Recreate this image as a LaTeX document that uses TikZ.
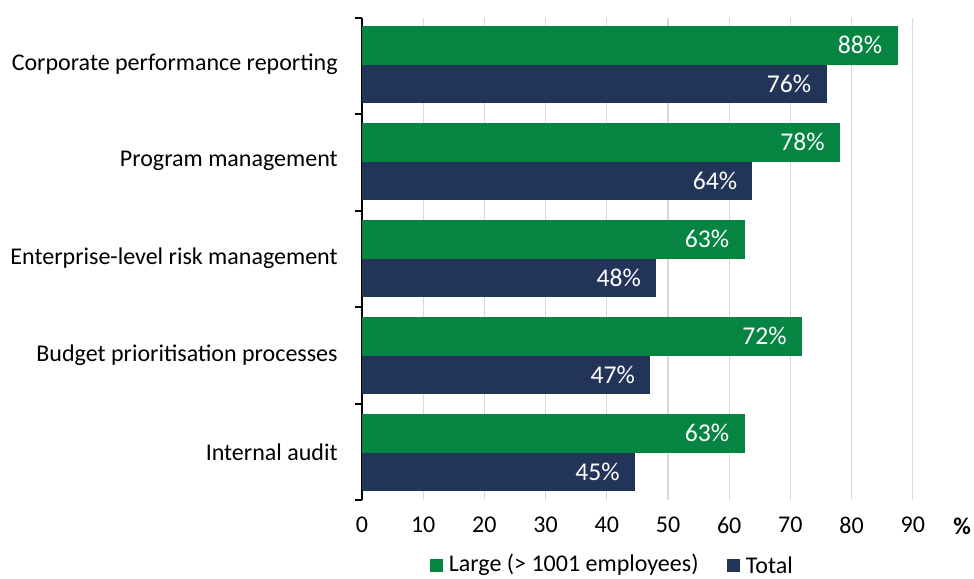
\documentclass[tikz,border=0pt]{standalone}
\usepackage{fontspec}
\setmainfont{Carlito}
\usetikzlibrary{positioning}
\definecolor{largegreen}{RGB}{5,133,65}
\definecolor{totalnavy}{RGB}{34,52,88}
\definecolor{gridgray}{RGB}{217,217,217}
\tikzstyle{bar}=[inner sep=0pt,outer sep=0pt,anchor=north west,minimum height=19.25pt,minimum width=#1*3.06pt]
\tikzstyle{large}=[fill=largegreen]
\tikzstyle{total}=[fill=totalnavy]
\tikzstyle{val}=[text=white,anchor=east,inner sep=0pt,font=\fontsize{12.8}{14}\selectfont]
\tikzstyle{cat}=[anchor=east,inner sep=0pt,font=\fontsize{12}{14}\selectfont]
\tikzstyle{num}=[inner sep=0pt,font=\fontsize{12}{14}\selectfont]
\tikzstyle{key}=[inner sep=0pt,minimum size=6.5pt]

\begin{document}
\begin{tikzpicture}[x=0.5pt,y=-0.5pt]
\useasboundingbox (0,0) rectangle (974,578);
% grid
\foreach \k in {1,...,9}
  \draw[gridgray,line width=0.6pt] ({362+61.2*\k},18) -- ({362+61.2*\k},500);
\draw[line width=1pt] (362,18) -- (362,500);
\foreach \t in {18,114,211,307,404,500}
  \draw[line width=1pt] (355,\t) -- (362,\t);

% bars
\node[bar=87.5,large] (g1) at (362,26) {};
\node[bar=75.9,total] (t1) at (362,64.5) {};
\node[bar=78.1,large] (g2) at (362,123) {};
\node[bar=63.8,total] (t2) at (362,161.5) {};
\node[bar=62.5,large] (g3) at (362,220) {};
\node[bar=48.1,total] (t3) at (362,258.5) {};
\node[bar=71.9,large] (g4) at (362,317) {};
\node[bar=47.1,total] (t4) at (362,355.5) {};
\node[bar=62.5,large] (g5) at (362,414) {};
\node[bar=44.6,total] (t5) at (362,452.5) {};

\node[val] (vg1) at ([xshift=-7.5pt]g1.east) {88\%};
\node[val] (vt1) at ([xshift=-7.5pt]t1.east) {76\%};
\node[val] (vg2) at ([xshift=-7.5pt]g2.east) {78\%};
\node[val] (vt2) at ([xshift=-7.5pt]t2.east) {64\%};
\node[val] (vg3) at ([xshift=-7.5pt]g3.east) {63\%};
\node[val] (vt3) at ([xshift=-7.5pt]t3.east) {48\%};
\node[val] (vg4) at ([xshift=-7.5pt]g4.east) {72\%};
\node[val] (vt4) at ([xshift=-7.5pt]t4.east) {47\%};
\node[val] (vg5) at ([xshift=-7.5pt]g5.east) {63\%};
\node[val] (vt5) at ([xshift=-7.5pt]t5.east) {45\%};

% categories
\node[cat] (c1) at (338,64) {Corporate performance reporting};
\node[cat] (c2) at (338,161) {Program management};
\node[cat] (c3) at (338,258) {Enterprise-level risk management};
\node[cat] (c4) at (338,355) {Budget prioritisation processes};
\node[cat] (c5) at (338,452) {Internal audit};

% axis labels
\foreach \k in {0,...,9}
  \node[num] (x\k) at ({362+61.2*\k},525) {\the\numexpr\k*10\relax};
\node[num,font=\fontsize{12}{14}\selectfont\bfseries] (pct) at (962,526) {\%};

% legend
\node[key,fill=largegreen] (k1) at (436.5,565) {};
\node[num,anchor=west,right=2.5pt of k1] (l1) {Large (> 1001 employees)};
\node[key,fill=totalnavy] (k2) at (733.5,565) {};
\node[num,anchor=west,right=2.5pt of k2] (l2) {Total};
\end{tikzpicture}
\end{document}
